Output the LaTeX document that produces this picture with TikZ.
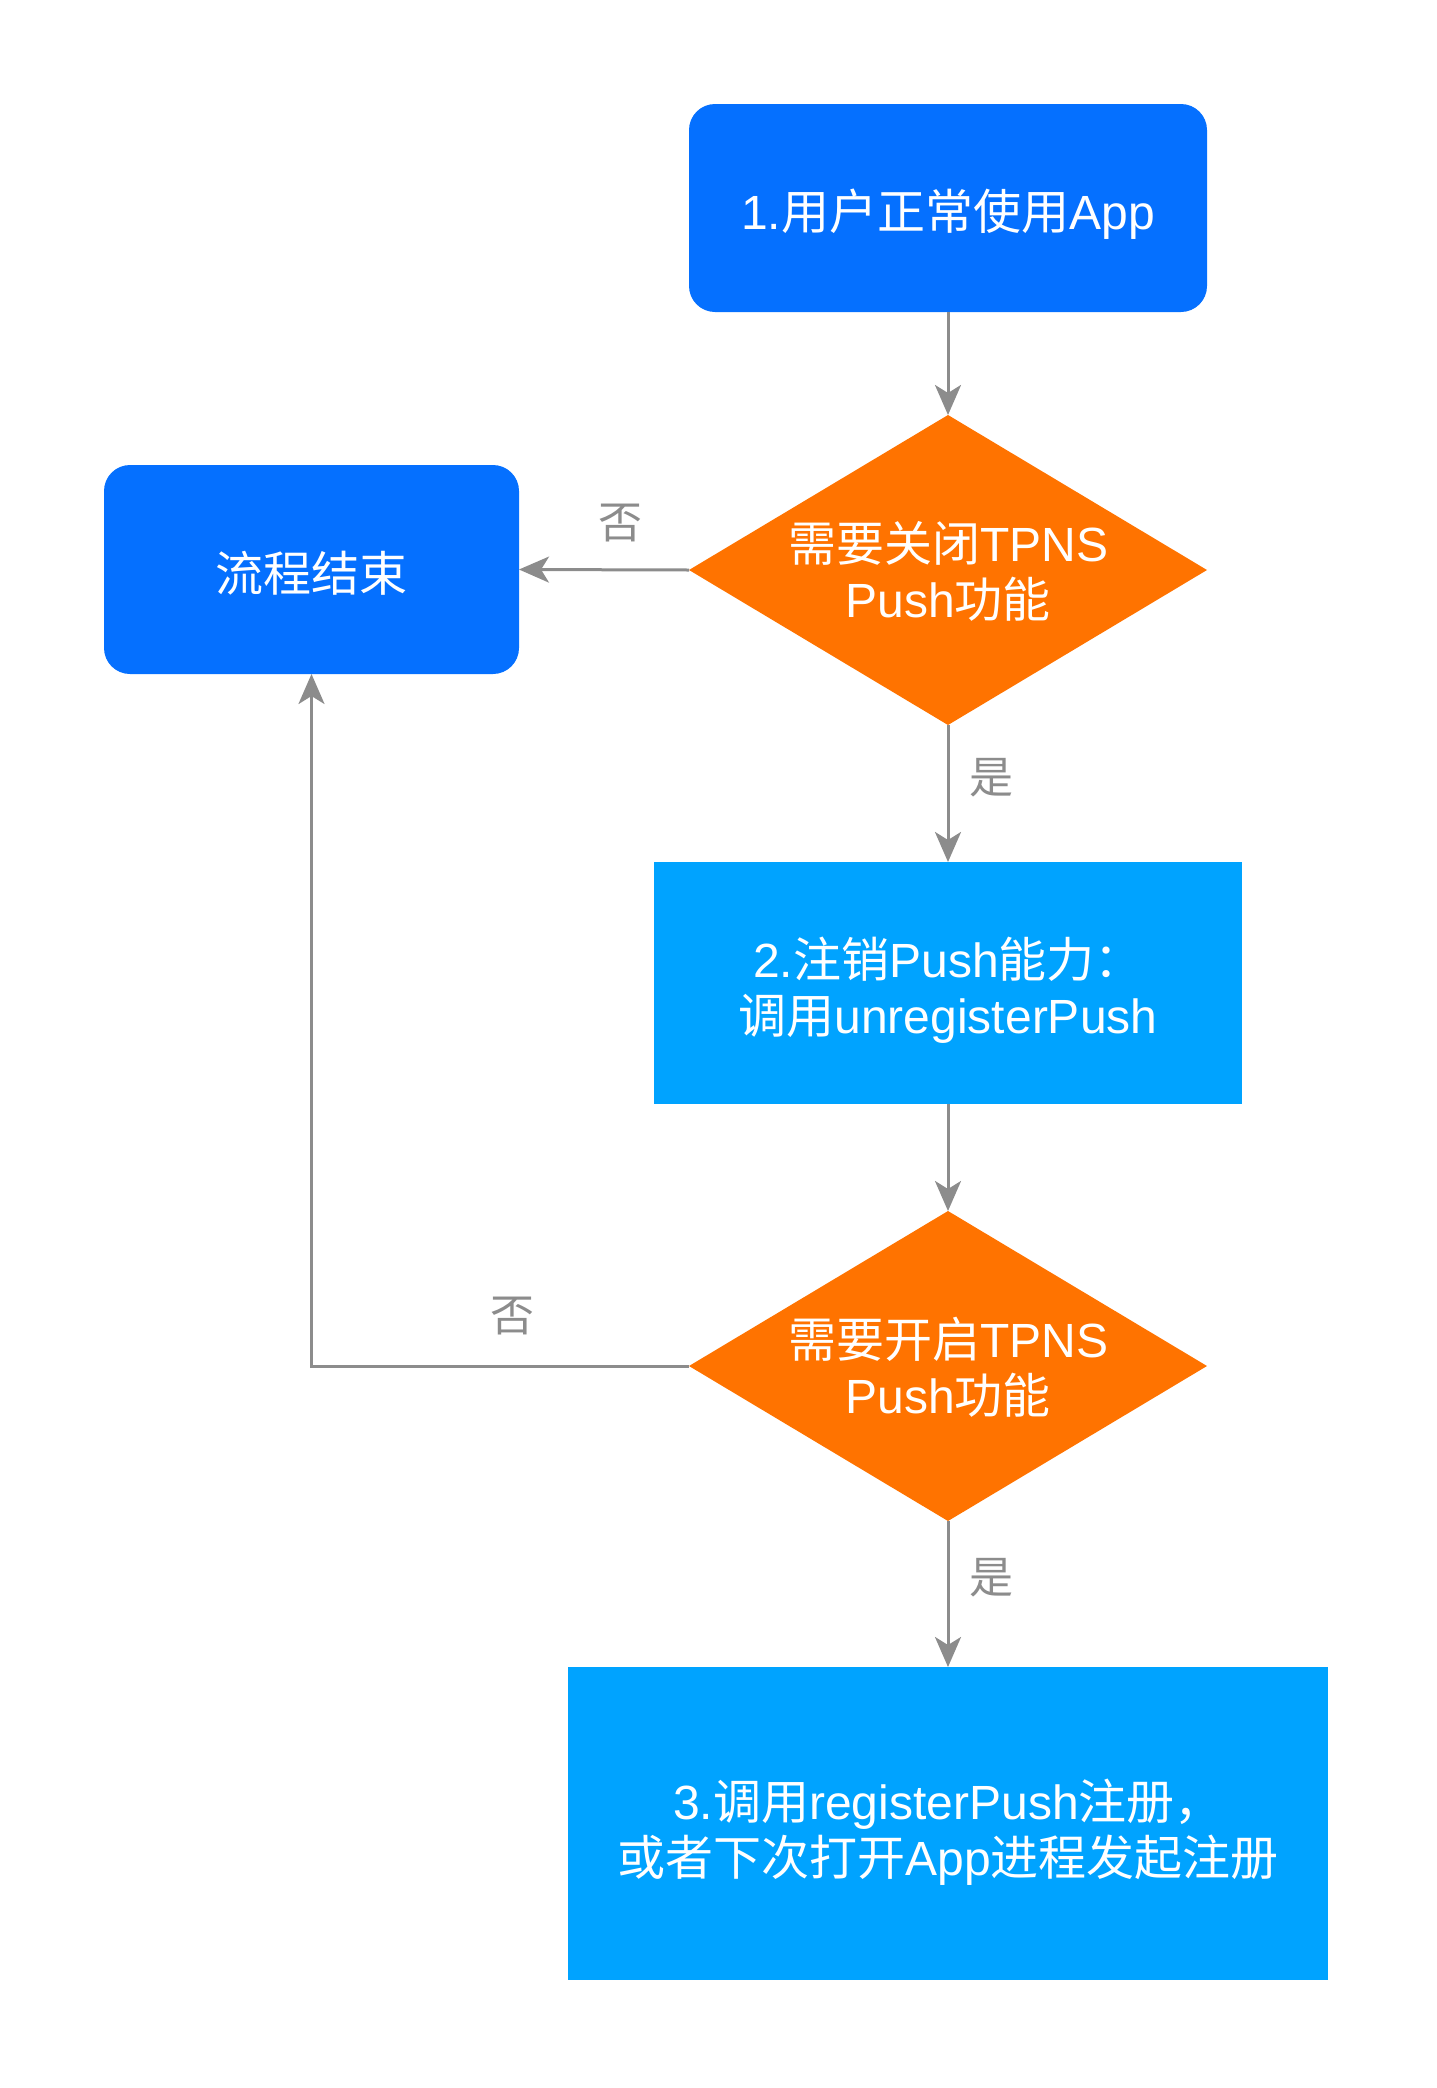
\documentclass[tikz,border=0pt]{standalone}
\usepackage{fontspec}
\setmainfont{Noto Sans CJK SC}
\newfontfamily\lat{Liberation Sans}
\usetikzlibrary{arrows.meta,shapes.geometric}
\definecolor{darkblue}{HTML}{0570FF}
\definecolor{lightblue}{HTML}{00A3FF}
\definecolor{decor}{HTML}{FF7300}
\definecolor{linegrey}{HTML}{8C8C8C}
\begin{document}
\begin{tikzpicture}[x=0.5pt,y=-0.5pt,
  roundbox/.style={rectangle,rounded corners=13pt,fill=darkblue,inner sep=0pt,outer sep=0pt},
  squarebox/.style={rectangle,fill=lightblue,inner sep=0pt,outer sep=0pt},
  decision/.style={diamond,fill=decor,inner sep=0pt,outer sep=0pt,minimum width=259pt,minimum height=155pt},
  btext/.style={text=white,align=center,font=\fontsize{24pt}{28pt}\selectfont,inner sep=0pt},
  lbl/.style={text=linegrey,font=\fontsize{22pt}{26pt}\selectfont,inner sep=0pt},
  conn/.style={draw=linegrey,line width=1.5pt,-{Stealth[length=15pt,width=13pt,inset=4pt]}}
]
\useasboundingbox (0,0) rectangle (1436,2088);
\node[roundbox,minimum width=259pt,minimum height=104pt] (b1) at (948,208) {};
\node[btext,yshift=-3pt] (t0) at (b1.center) {{\lat 1.}用户正常使用{\lat App}};
\node[decision] (d1) at (948,570) {};
\node[btext,yshift=-0.5pt] (t1) at (d1.center) {需要关闭{\lat TPNS}\\{\lat Push}功能};
\node[roundbox,minimum width=207.5pt,minimum height=104.5pt] (e) at (311.5,569.5) {};
\node[btext,yshift=-2pt] (te) at (e.center) {流程结束};
\node[squarebox,minimum width=294pt,minimum height=121pt] (b2) at (948,983) {};
\node[btext,yshift=-3.5pt] (t2) at (b2.center) {{\lat 2.}注销{\lat Push}能力：\\调用{\lat unregisterPush}};
\node[decision] (d2) at (948,1366) {};
\node[btext,yshift=-0.5pt] (t3) at (d2.center) {需要开启{\lat TPNS}\\{\lat Push}功能};
\node[squarebox,minimum width=380pt,minimum height=156.5pt] (b3) at (948,1823.5) {};
\node[btext,yshift=-4.5pt] (t4) at (b3.center) {{\lat 3.}调用{\lat registerPush}注册，\\或者下次打开{\lat App}进程发起注册};
\draw[conn] (b1.south) -- (d1.north);
\draw[conn] (d1.west) -- (e.east);
\draw[conn] (d1.south) -- (b2.north);
\draw[conn] (b2.south) -- (d2.north);
\draw[conn] (d2.west) -| (e.south);
\draw[conn] (d2.south) -- (b3.north);
\node[lbl] (l1) at (620,523) {否};
\node[lbl] (l2) at (991,778) {是};
\node[lbl] (l3) at (512,1316) {否};
\node[lbl] (l4) at (991,1578) {是};
\end{tikzpicture}
\end{document}
